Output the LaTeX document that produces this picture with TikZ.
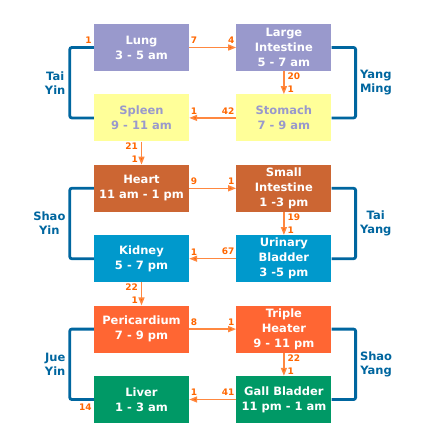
\documentclass[tikz,border=0pt]{standalone}
\usepackage{fontspec}
\setmainfont{DejaVu Sans}
\usetikzlibrary{positioning,arrows.meta}
\definecolor{metal}{HTML}{9999CC}
\definecolor{earth}{HTML}{FFFF99}
\definecolor{fire}{HTML}{CC6633}
\definecolor{water}{HTML}{0099CC}
\definecolor{minfire}{HTML}{FF6633}
\definecolor{wood}{HTML}{009966}
\definecolor{channel}{HTML}{00669F}
\definecolor{flowline}{HTML}{FF8840}
\definecolor{flowtip}{HTML}{FF6600}
\tikzset{
  organ/.style={rectangle,minimum width=95pt,minimum height=47pt,inner sep=0pt,
    align=center,font=\fontsize{11.5}{15}\selectfont\bfseries,text=white},
  flow/.style={-{Triangle[length=8pt,width=6pt,fill=flowtip]},draw=flowline,line width=1.4pt},
  num/.style={font=\fontsize{9}{9}\selectfont\bfseries,text=flowtip,inner sep=1pt},
  pair/.style={draw=channel,line width=2.8pt,rounded corners=2pt},
  pairname/.style={font=\fontsize{11.5}{14}\selectfont\bfseries,text=channel,align=center,inner sep=1pt}
}
\begin{document}
\begin{tikzpicture}[x=1pt,y=-1pt]
    \useasboundingbox (0,0) rectangle (432,432);

    \node[organ,fill=metal] (lung) at (141.5,47.5) {Lung\\3 - 5 am};
    \node[organ,fill=metal,right=47pt of lung] (li) {Large\\Intestine\\5 - 7 am};
    \node[organ,fill=earth,text=metal,below=23pt of lung] (spleen) {Spleen\\9 - 11 am};
    \node[organ,fill=earth,text=metal,below=23pt of li] (stomach) {Stomach\\7 - 9 am};
    \node[organ,fill=fire,below=23pt of spleen] (heart) {Heart\\11 am - 1 pm};
    \node[organ,fill=fire,below=23pt of stomach] (si) {Small\\Intestine\\1 -3 pm};
    \node[organ,fill=water,below=23pt of heart] (kidney) {Kidney\\5 - 7 pm};
    \node[organ,fill=water,below=23pt of si] (ub) {Urinary\\Bladder\\3 -5 pm};
    \node[organ,fill=minfire,below=23pt of kidney] (pc) {Pericardium\\7 - 9 pm};
    \node[organ,fill=minfire,below=23pt of ub] (th) {Triple\\Heater\\9 - 11 pm};
    \node[organ,fill=wood,below=23pt of pc] (liver) {Liver\\1 - 3 am};
    \node[organ,fill=wood,below=23pt of th] (gb) {Gall Bladder\\11 pm - 1 am};

    % channel pairs
    \draw[pair] (lung.west) -- ++(-24,0) |- (spleen.west) node[pairname,pos=0.25,left=2pt] {Tai\\Yin};
    \draw[pair] (li.east) -- ++(24,0) |- (stomach.east) node[pairname,pos=0.25,right=2pt] {Yang\\Ming};
    \draw[pair] (heart.west) -- ++(-24,0) |- (kidney.west) node[pairname,pos=0.25,left=2pt] {Shao\\Yin};
    \draw[pair] (si.east) -- ++(24,0) |- (ub.east) node[pairname,pos=0.25,right=2pt] {Tai\\Yang};
    \draw[pair] (pc.west) -- ++(-24,0) |- (liver.west) node[pairname,pos=0.25,left=2pt] {Jue\\Yin};
    \draw[pair] (th.east) -- ++(24,0) |- (gb.east) node[pairname,pos=0.25,right=2pt] {Shao\\Yang};

    \node[num,anchor=south east] at ([xshift=-1pt,yshift=3pt]lung.west) {1};
    \node[num,anchor=north east] at ([xshift=-1pt,yshift=-3pt]liver.west) {14};

    % flow of qi
    \path[flow] (lung) edge node[num,at start,anchor=south west,yshift=2pt] {7}
                          node[num,at end,anchor=south east,yshift=2pt] {4} (li)
    (li) edge node[num,at start,anchor=north west,xshift=2pt] {20}
              node[num,at end,anchor=south west,xshift=2pt] {1} (stomach)
    (stomach) edge node[num,at start,anchor=south east,yshift=2pt] {42}
                   node[num,at end,anchor=south west,yshift=2pt] {1} (spleen)
    (spleen) edge node[num,at start,anchor=north east,xshift=-2pt] {21}
                  node[num,at end,anchor=south east,xshift=-2pt] {1} (heart)
    (heart) edge node[num,at start,anchor=south west,yshift=2pt] {9}
                 node[num,at end,anchor=south east,yshift=2pt] {1} (si)
    (si) edge node[num,at start,anchor=north west,xshift=2pt] {19}
              node[num,at end,anchor=south west,xshift=2pt] {1} (ub)
    (ub) edge node[num,at start,anchor=south east,yshift=2pt] {67}
              node[num,at end,anchor=south west,yshift=2pt] {1} (kidney)
    (kidney) edge node[num,at start,anchor=north east,xshift=-2pt] {22}
                  node[num,at end,anchor=south east,xshift=-2pt] {1} (pc)
    (pc) edge node[num,at start,anchor=south west,yshift=2pt] {8}
              node[num,at end,anchor=south east,yshift=2pt] {1} (th)
    (th) edge node[num,at start,anchor=north west,xshift=2pt] {22}
              node[num,at end,anchor=south west,xshift=2pt] {1} (gb)
    (gb) edge node[num,at start,anchor=south east,yshift=2pt] {41}
              node[num,at end,anchor=south west,yshift=2pt] {1} (liver);

\end{tikzpicture}
\end{document}
